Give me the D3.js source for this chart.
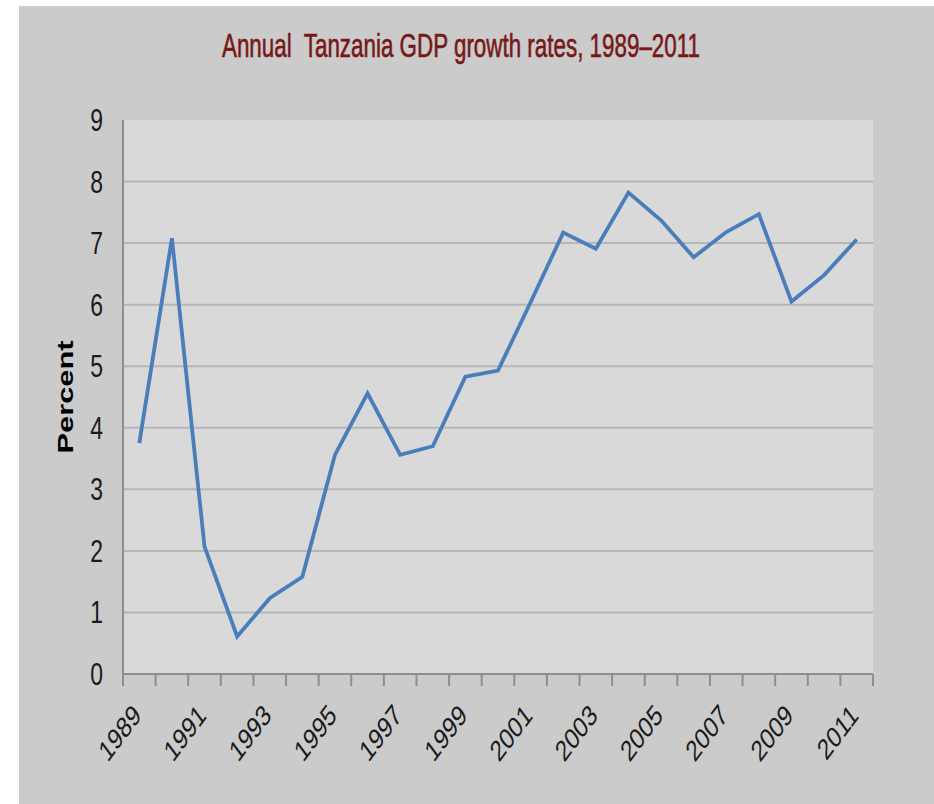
<!DOCTYPE html>
<html>
<head>
<meta charset="utf-8">
<script src="https://cdn.jsdelivr.net/npm/d3@7"></script>
<style>
  html, body { margin: 0; padding: 0; background: #ffffff; }
  svg { display: block; }
  text { font-family: "Liberation Sans Narrow", "Liberation Sans", sans-serif; }
</style>
</head>
<body>
<svg id="chart" width="934" height="804"></svg>
<script>
const years = [1989,1990,1991,1992,1993,1994,1995,1996,1997,1998,1999,2000,2001,2002,2003,2004,2005,2006,2007,2008,2009,2010,2011];
const growth = [3.75,7.08,2.07,0.61,1.23,1.58,3.56,4.56,3.56,3.70,4.83,4.93,6.04,7.17,6.91,7.82,7.37,6.77,7.18,7.47,6.05,6.48,7.06];
const yTicks = [0,1,2,3,4,5,6,7,8,9];
const xTickLabels = [1989,1991,1993,1995,1997,1999,2001,2003,2005,2007,2009,2011];
const titleText = "Annual  Tanzania GDP growth rates, 1989\u20132011";
const yLabel = "Percent";

const S = 1.33; // vertical stretch of text in the reference
const svg = d3.select("#chart");
const L = 123, R = 873, T = 120, B = 674;

svg.append("rect").attr("x", 19).attr("y", 6).attr("width", 934 - 19).attr("height", 804 - 6).attr("fill", "#cbcbcb");
svg.append("rect").attr("x", L).attr("y", T).attr("width", R - L).attr("height", B - T).attr("fill", "#d9d9d9");

const x = d3.scaleBand().domain(years).range([L, R]).padding(0);
const y = d3.scaleLinear().domain([0, 9]).range([B, T]);

// gridlines
svg.append("g").selectAll("line").data(yTicks.filter(d => d > 0 && d < 9)).join("line")
  .attr("x1", L).attr("x2", R).attr("y1", d => y(d)).attr("y2", d => y(d))
  .attr("stroke", "#b6b6b6").attr("stroke-width", 2);

// y tick labels
svg.append("g").selectAll("text").data(yTicks).join("text")
  .attr("transform", d => `translate(103,${y(d)}) scale(1,${S})`)
  .attr("text-anchor", "end").attr("dy", "0.36em")
  .attr("font-size", 23).attr("fill", "#1a1a1a")
  .text(d => d);

// axes lines
svg.append("line").attr("x1", L).attr("x2", L).attr("y1", T).attr("y2", B + 12)
  .attr("stroke", "#8e8e8e").attr("stroke-width", 2);
svg.append("line").attr("x1", L).attr("x2", R).attr("y1", B).attr("y2", B)
  .attr("stroke", "#8e8e8e").attr("stroke-width", 2);

// x ticks at band boundaries
const boundaries = years.map(d => x(d)).concat([R]);
svg.append("g").selectAll("line").data(boundaries).join("line")
  .attr("x1", d => d).attr("x2", d => d).attr("y1", B).attr("y2", B + 12)
  .attr("stroke", "#8e8e8e").attr("stroke-width", 2);

// x tick labels
svg.append("g").selectAll("text").data(xTickLabels).join("text")
  .attr("transform", d => `translate(${x(d) + x.bandwidth() / 2 + 3},${B + 43}) scale(1,${S}) rotate(-45)`)
  .attr("text-anchor", "end")
  .attr("font-size", 22).attr("fill", "#1a1a1a")
  .text(d => d);

// line
const line = d3.line().x((d, i) => x(years[i]) + x.bandwidth() / 2).y(d => y(d));
svg.append("path").datum(growth).attr("d", line)
  .attr("fill", "none").attr("stroke", "#4a7ebb").attr("stroke-width", 3.8)
  .attr("stroke-linejoin", "miter");

// title
svg.append("text")
  .attr("transform", `translate(461,57) scale(1,1.5)`)
  .attr("text-anchor", "middle").attr("font-size", 22.4)
  .attr("fill", "#761818").attr("stroke", "#761818").attr("stroke-width", 0.4)
  .style("white-space", "pre")
  .text(titleText);

// y label
svg.append("text")
  .attr("transform", `translate(73,397) scale(1,1.4) rotate(-90)`)
  .attr("text-anchor", "middle").attr("font-size", 22).attr("font-weight", "bold")
  .attr("fill", "#000")
  .text(yLabel);
</script>
</body>
</html>
